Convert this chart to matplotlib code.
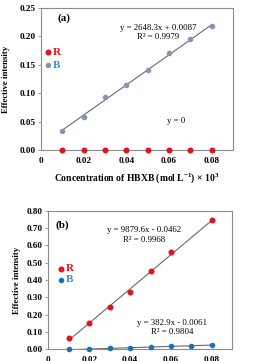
import matplotlib
matplotlib.use("Agg")
import matplotlib.pyplot as plt

plt.rcParams['font.family'] = ['Liberation Serif', 'DejaVu Serif']
plt.rcParams['mathtext.fontset'] = 'custom'
plt.rcParams['mathtext.rm'] = 'Liberation Serif:bold'
plt.rcParams['mathtext.it'] = 'Liberation Serif:bold:italic'
plt.rcParams['mathtext.bf'] = 'Liberation Serif:bold'

# Data
conc = [0.01, 0.02, 0.03, 0.04, 0.05, 0.06, 0.07, 0.08]
a_B = [0.034, 0.059, 0.094, 0.115, 0.141, 0.170, 0.195, 0.219]
a_R = [0.0, 0.0, 0.0, 0.0, 0.0, 0.0, 0.0, 0.0]
b_R_x = [0.01, 0.02, 0.03, 0.04, 0.05, 0.06, 0.08]
b_R = [0.068, 0.153, 0.242, 0.329, 0.453, 0.564, 0.746]
b_B = [0.001, 0.002, 0.006, 0.010, 0.013, 0.019, 0.021, 0.026]
trend_x = [0.01, 0.08]
trend_a_B = [0.0352, 0.2206]
trend_b_R = [0.0526, 0.7442]
trend_b_B = [-0.0023, 0.0245]
xticks = [0, 0.02, 0.04, 0.06, 0.08]
xticklabels = ['0', '0.02', '0.04', '0.06', '0.08']
yticks_a = [0.00, 0.05, 0.10, 0.15, 0.20, 0.25]
yticks_b = [0.00, 0.10, 0.20, 0.30, 0.40, 0.50, 0.60, 0.70, 0.80]

RED = '#e5121b'
BLUE_A = '#8595b5'
BLUE_TXT = '#3a8ccc'
BLUE_B = '#1b70b8'
LINE = '#6a6a6a'
SPINE = '#8c8c8c'

fig = plt.figure(figsize=(2.59, 3.61), dpi=100)
ax1 = fig.add_axes([0.158, 0.584, 0.742, 0.394])
ax2 = fig.add_axes([0.187, 0.0324, 0.710, 0.384])

def style(ax, yticks, fmt):
    ax.set_xlim(0, 0.09)
    ax.set_xticks(xticks)
    ax.set_xticklabels(xticklabels)
    ax.set_yticks(yticks)
    ax.set_yticklabels([fmt % v for v in yticks])
    ax.set_ylim(yticks[0], yticks[-1])
    for s in ax.spines.values():
        s.set_color(SPINE)
        s.set_linewidth(0.8)
    ax.tick_params(axis='y', direction='out', length=2.5, width=0.6, color=SPINE,
                   labelsize=6.6, pad=1.5)
    ax.tick_params(axis='x', direction='out', length=0, labelsize=6.6, pad=5)
    for lab in ax.get_xticklabels() + ax.get_yticklabels():
        lab.set_fontweight('bold')
    ax.set_ylabel('Effective intensity', fontsize=6.3, fontweight='bold', labelpad=3)

# Panel a
style(ax1, yticks_a, '%.2f')
ax1.plot(trend_x, trend_a_B, '-', color=LINE, linewidth=0.8, zorder=2)
ax1.plot(conc, a_B, linestyle='none', marker='o', color=BLUE_A, ms=3, zorder=3, clip_on=False)
ax1.plot(conc, a_R, linestyle='none', marker='o', color=RED, ms=3.3, zorder=4, clip_on=False)
ax1.text(0.0548, 0.2147, 'y = 2648.3x + 0.0087', fontsize=6.3, ha='center', va='center')
ax1.text(0.0548, 0.1990, 'R\u00b2 = 0.9979', fontsize=6.3, ha='center', va='center')
ax1.text(0.0634, 0.0517, 'y = 0', fontsize=6.3, ha='center', va='center')
ax1.text(0.011, 0.2325, '(a)', fontsize=8, fontweight='bold', ha='center', va='center')
ax1.plot([0.0031], [0.172], linestyle='none', marker='o', color=RED, ms=3.3, clip_on=False)
ax1.plot([0.0031], [0.149], linestyle='none', marker='o', color=BLUE_A, ms=3, clip_on=False)
ax1.text(0.0075, 0.172, 'R', color=RED, fontsize=8, fontweight='bold', ha='center', va='center')
ax1.text(0.0075, 0.149, 'B', color=BLUE_TXT, fontsize=8, fontweight='bold', ha='center', va='center')
ax1.set_xlabel('Concentration of HBXB (mol L$^{-1}$) \u00d7 10$^{3}$', fontsize=6.9,
               fontweight='bold', labelpad=4)
ax1.yaxis.set_label_coords(-0.16, 0.5)

# Panel b
style(ax2, yticks_b, '%.2f')
ax2.plot(trend_x, trend_b_R, '-', color=LINE, linewidth=0.8, zorder=2)
ax2.plot(trend_x, trend_b_B, '-', color=LINE, linewidth=0.8, zorder=2)
ax2.plot(b_R_x, b_R, linestyle='none', marker='o', color=RED, ms=3.3, zorder=4, clip_on=False)
ax2.plot(conc, b_B, linestyle='none', marker='o', color=BLUE_B, ms=3, zorder=3, clip_on=False)
ax2.text(0.0466, 0.689, 'y = 9879.6x - 0.0462', fontsize=6.3, ha='center', va='center')
ax2.text(0.0466, 0.630, 'R\u00b2 = 0.9968', fontsize=6.3, ha='center', va='center')
ax2.text(0.0604, 0.150, 'y = 382.9x - 0.0061', fontsize=6.3, ha='center', va='center')
ax2.text(0.0604, 0.098, 'R\u00b2 = 0.9804', fontsize=6.3, ha='center', va='center')
ax2.text(0.0069, 0.717, '(b)', fontsize=8, fontweight='bold', ha='center', va='center')
ax2.plot([0.0062], [0.464], linestyle='none', marker='o', color=RED, ms=3.3, clip_on=False)
ax2.plot([0.0062], [0.400], linestyle='none', marker='o', color=BLUE_B, ms=3, clip_on=False)
ax2.text(0.0105, 0.464, 'R', color=RED, fontsize=8, fontweight='bold', ha='center', va='center')
ax2.text(0.0105, 0.400, 'B', color=BLUE_TXT, fontsize=8, fontweight='bold', ha='center', va='center')
ax2.yaxis.set_label_coords(-0.15, 0.5)

fig.savefig('out.png', dpi=100)
